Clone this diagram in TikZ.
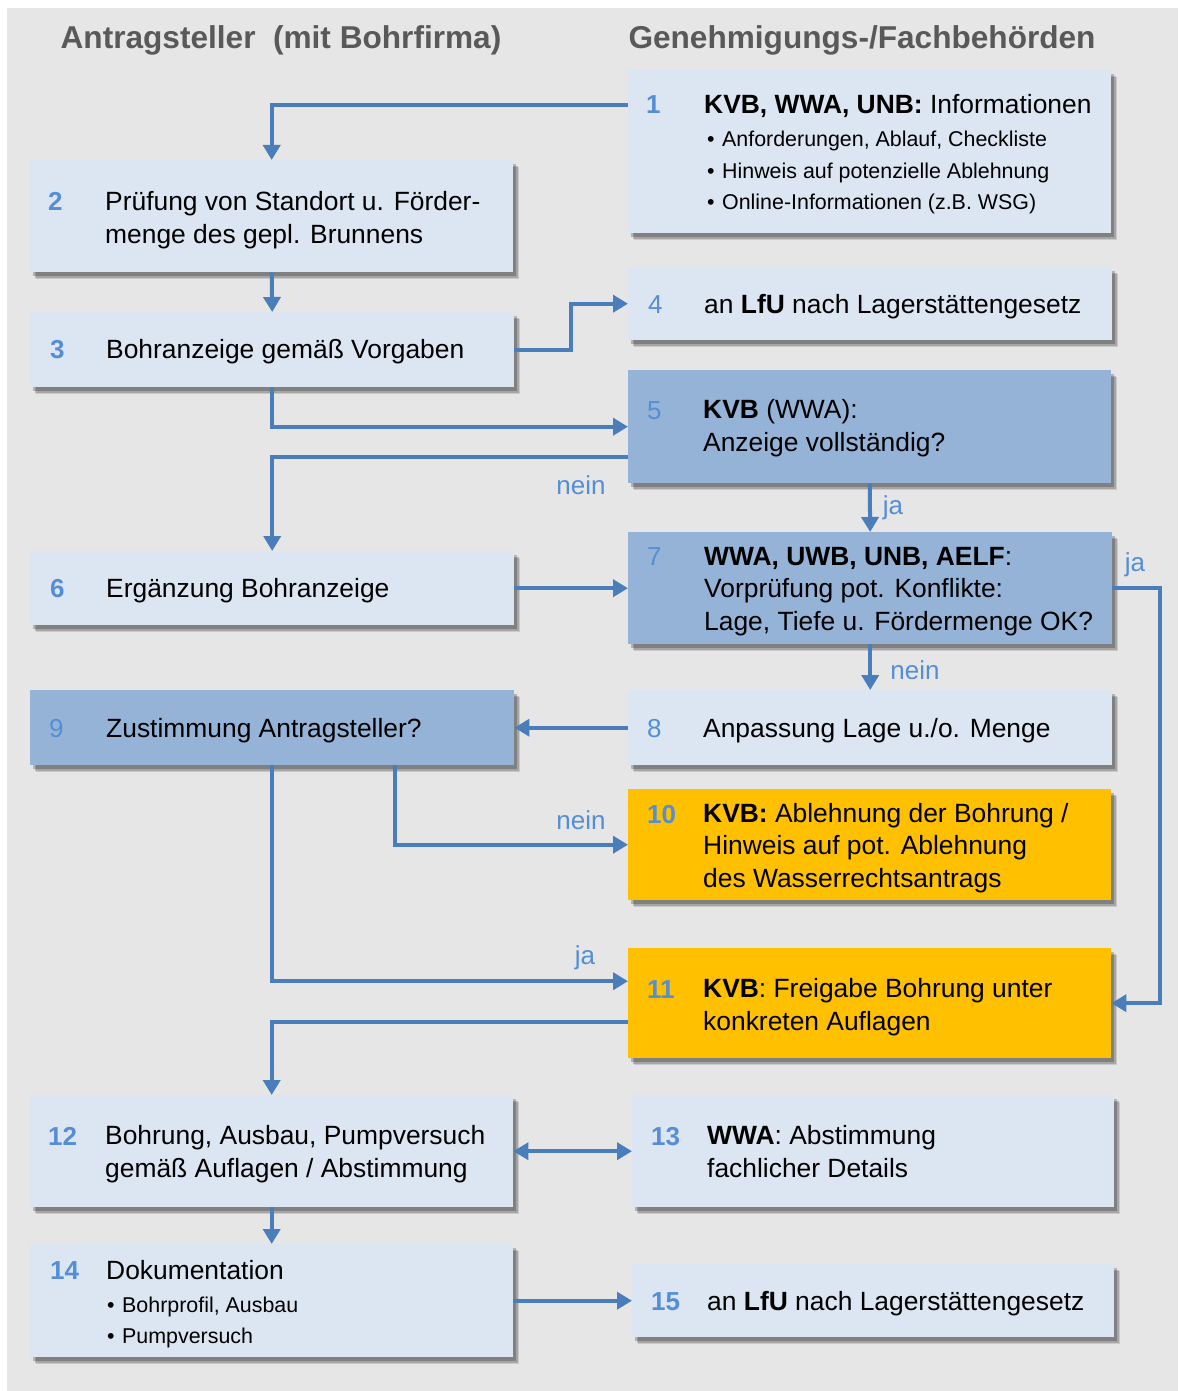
\documentclass[tikz,border=0pt]{standalone}
\usepackage{fontspec}
\setmainfont{Liberation Sans}
\usetikzlibrary{arrows.meta,shadows}

\definecolor{bggray}{HTML}{E6E6E6}
\definecolor{lightbox}{HTML}{DCE6F2}
\definecolor{darkbox}{HTML}{95B3D7}
\definecolor{orangebox}{HTML}{FFC000}
\definecolor{lineblue}{HTML}{4A7EBB}
\definecolor{numblue}{HTML}{558ED5}
\definecolor{headgray}{HTML}{595959}

\newcommand{\blt}{\hspace{3pt}\makebox[15pt][l]{\textbullet}}

\begin{document}
\begin{tikzpicture}
	% flow chart of the drilling notification, applicant left, authorities right
	[x=1pt,y=-1pt,
	 box/.style={anchor=north west,inner sep=0pt,
	   drop shadow={shadow xshift=6pt,shadow yshift=-7pt,fill=black,opacity=0.12},
	   drop shadow={shadow xshift=4.5pt,shadow yshift=-5.5pt,fill=black,opacity=0.18},
	   drop shadow={shadow xshift=3pt,shadow yshift=-4pt,fill=black,opacity=0.22}},
	 lbox/.style={box,fill=lightbox},
	 dbox/.style={box,fill=darkbox},
	 obox/.style={box,fill=orangebox},
	 num/.style={anchor=base west,inner sep=0pt,text=numblue,font=\fontsize{26}{32}\selectfont\bfseries},
	 thinnum/.style={num,font=\fontsize{26}{32}\selectfont},
	 txt/.style={anchor=base west,inner sep=0pt,align=left,font=\fontsize{26.4}{32.5}\selectfont},
	 small/.style={anchor=base west,inner sep=0pt,align=left,font=\fontsize{21.4}{31.5}\selectfont},
	 head/.style={anchor=base,inner sep=0pt,text=headgray,font=\fontsize{31.6}{36}\selectfont\bfseries},
	 lab/.style={inner sep=0pt,text=numblue,font=\fontsize{26}{30}\selectfont},
	 conn/.style={line width=4pt,draw=lineblue,-{Triangle[length=15pt,width=17pt]}}]

	\useasboundingbox (0,0) rectangle (1178,1391);
	\fill[bggray] (7,8) rectangle (1178,1391);

	\node[head] (h1) at (281,49) {Antragsteller\ \ (mit Bohrfirma)};
	\node[head] (h2) at (862,49) {Genehmigungs-/Fachbehörden};

	% boxes
	\node[lbox,minimum width=483pt,minimum height=163pt] (b1) at (628,70) {};
	\node[lbox,minimum width=483pt,minimum height=112pt] (b2) at (30,160) {};
	\node[lbox,minimum width=484pt,minimum height=75pt] (b3) at (30,312) {};
	\node[lbox,minimum width=484pt,minimum height=73pt] (b4) at (628,267) {};
	\node[dbox,minimum width=483pt,minimum height=113pt] (b5) at (628,370) {};
	\node[lbox,minimum width=484pt,minimum height=74pt] (b6) at (30,551) {};
	\node[dbox,minimum width=484pt,minimum height=112pt] (b7) at (628,532) {};
	\node[lbox,minimum width=484pt,minimum height=75pt] (b8) at (628,690) {};
	\node[dbox,minimum width=484pt,minimum height=75pt] (b9) at (30,690) {};
	\node[obox,minimum width=483pt,minimum height=111pt] (b10) at (628,789) {};
	\node[obox,minimum width=483pt,minimum height=110pt] (b11) at (628,948) {};
	\node[lbox,minimum width=483pt,minimum height=112pt] (b12) at (30,1095) {};
	\node[lbox,minimum width=482pt,minimum height=112pt] (b13) at (632,1095) {};
	\node[lbox,minimum width=483pt,minimum height=113pt] (b14) at (30,1244) {};
	\node[lbox,minimum width=482pt,minimum height=73pt] (b15) at (632,1264) {};

	% numbers
	\node[num] (n1) at (646,114) {1};
	\node[num] (n2) at (48,210) {2};
	\node[num] (n3) at (50,358) {3};
	\node[thinnum] (n4) at (648,313) {4};
	\node[thinnum] (n5) at (647,419) {5};
	\node[num] (n6) at (50,597) {6};
	\node[thinnum] (n7) at (647,565) {7};
	\node[thinnum] (n8) at (647,737) {8};
	\node[thinnum] (n9) at (49,737) {9};
	\node[num] (n10) at (647,823) {10};
	\node[num] (n11) at (647,998) {11};
	\node[num] (n12) at (48,1145) {12};
	\node[num] (n13) at (651,1145) {13};
	\node[num] (n14) at (50,1279) {14};
	\node[num] (n15) at (651,1310) {15};

	% texts (base = last line)
	\node[txt] (t1) at (704,114) {\textbf{KVB, WWA, UNB:} Informationen};
	\node[small] (t1b) at (704,209.5) {\blt Anforderungen, Ablauf, Checkliste\\
		\blt Hinweis auf potenzielle Ablehnung\\
		\blt Online-Informationen (z.B. WSG)};
	\node[txt] (t2) at (105,243) {Prüfung von Standort u. Förder-\\menge des gepl. Brunnens};
	\node[txt] (t3) at (106,358) {Bohranzeige gemäß Vorgaben};
	\node[txt] (t4) at (704,313) {an \textbf{LfU} nach Lagerstättengesetz};
	\node[txt] (t5) at (703,451) {\textbf{KVB} (WWA):\\Anzeige vollständig?};
	\node[txt] (t6) at (106,597) {Ergänzung Bohranzeige};
	\node[txt] (t7) at (704,630) {\textbf{WWA, UWB, UNB, AELF}:\\Vorprüfung pot. Konflikte:\\Lage, Tiefe u. Fördermenge OK?};
	\node[txt] (t8) at (703,737) {Anpassung Lage u./o. Menge};
	\node[txt] (t9) at (106,737) {Zustimmung Antragsteller?};
	\node[txt] (t10) at (703,887) {\textbf{KVB:} Ablehnung der Bohrung /\\Hinweis auf pot. Ablehnung\\des Wasserrechtsantrags};
	\node[txt] (t11) at (703,1030) {\textbf{KVB}: Freigabe Bohrung unter\\konkreten Auflagen};
	\node[txt] (t12) at (105,1177) {Bohrung, Ausbau, Pumpversuch\\gemäß Auflagen / Abstimmung};
	\node[txt] (t13) at (707,1177) {\textbf{WWA}: Abstimmung\\fachlicher Details};
	\node[txt] (t14) at (106,1279) {Dokumentation};
	\node[small] (t14b) at (104,1343.5) {\blt Bohrprofil, Ausbau\\\blt Pumpversuch};
	\node[txt] (t15) at (707,1310) {an \textbf{LfU} nach Lagerstättengesetz};

	% connectors
	\draw[conn] (b1.west |- n1) -| (b2.north);
	\draw[conn] (b2.south) -- (b3.north);
	\draw[conn] (b3.east) -- ++(57,0) |- (b4.west);
	\draw[conn] (b3.south) |- (b5.west);
	\draw[conn] ([yshift=-30pt]b5.west) -| (b6.north);
	\draw[conn] (b5.south) -- (b7.north);
	\draw[conn] (b6.east) -- (b7.west);
	\draw[conn] (b7.east) -- ++(48,0) |- (b11.east);
	\draw[conn] (b7.south) -- (b8.north);
	\draw[conn] (b8.west) -- (b9.east);
	\draw[conn] ([xshift=123pt]b9.south) |- (b10.west);
	\draw[conn] (b9.south) |- ([yshift=22pt]b11.west);
	\draw[conn] ([yshift=-19pt]b11.west) -| (b12.north);
	\draw[conn,{Triangle[length=15pt,width=17pt]}-{Triangle[length=15pt,width=17pt]}] (b12.east) -- (b13.west);
	\draw[conn] (b12.south) -- (b14.north);
	\draw[conn] (b14.east) -- (b15.west);

	% labels
	\node[lab] (l5n) at (581,485) {nein};
	\node[lab] (l5j) at (893,508) {ja};
	\node[lab] (l7j) at (1135,565) {ja};
	\node[lab] (l7n) at (915,670) {nein};
	\node[lab] (l9n) at (581,820) {nein};
	\node[lab] (l9j) at (585,958) {ja};
\end{tikzpicture}
\end{document}
